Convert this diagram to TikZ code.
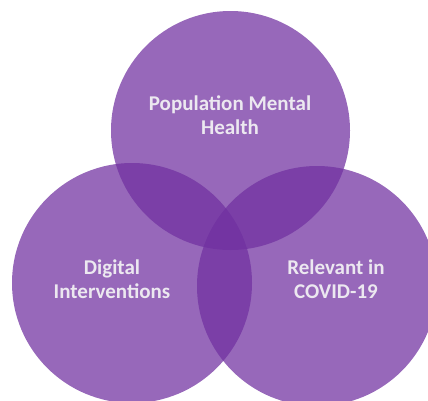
\documentclass[tikz,border=0pt]{standalone}
\usepackage{fontspec}
\setmainfont{Carlito}
\usepackage{tikz}
\usetikzlibrary{positioning}

\definecolor{vennpurple}{RGB}{112,48,160}
\definecolor{venntext}{RGB}{236,232,240}

\tikzset{
  venncircle/.style={fill=vennpurple,fill opacity=0.73,draw=none},
  vennlabel/.style={text=venntext,font=\bfseries\fontsize{21}{24.5}\selectfont,align=center}
}

\begin{document}
\begin{tikzpicture}[x=1pt,y=-1pt]
  % Frame
  \useasboundingbox (0,0) rectangle (428,400);
  \clip (0,0) rectangle (428,400);

  % Circles
  \fill[venncircle] (230.5,130.5) circle (119.5);
  \fill[venncircle] (132,283) circle (120);
  \fill[venncircle] (317,286) circle (120);

  % Labels
  \node[vennlabel] (health) at (230,115) {Population Mental\\Health};
  \node[vennlabel] (digital) at (112,279) {Digital\\Interventions};
  \node[vennlabel] (covid) at (336,279) {Relevant in\\COVID-19};
\end{tikzpicture}
\end{document}
